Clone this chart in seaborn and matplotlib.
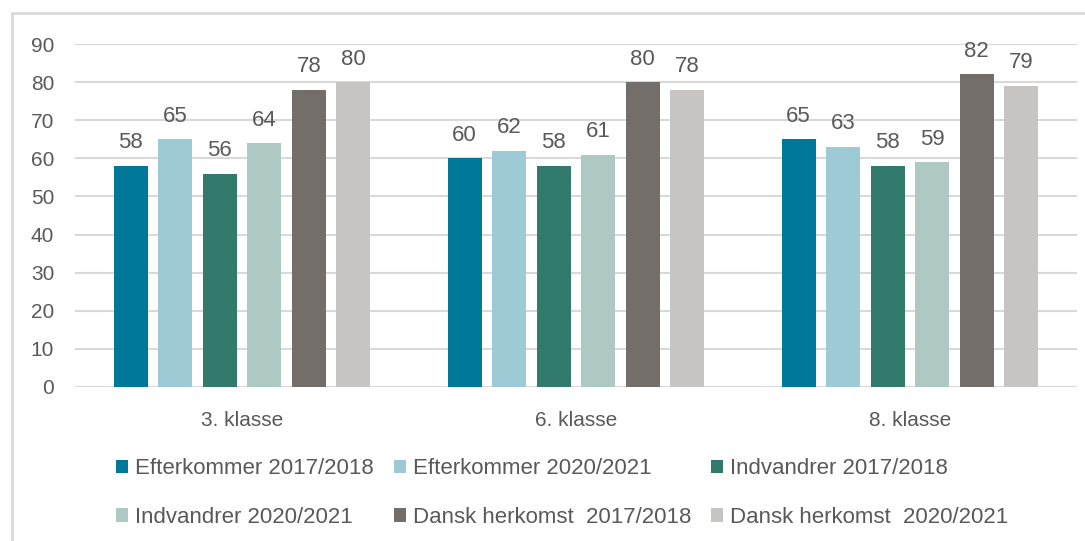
import pandas as pd
import seaborn as sns
import matplotlib.pyplot as plt
from matplotlib.lines import Line2D

# data
classes = ['3. klasse', '6. klasse', '8. klasse']
groups = ['Efterkommer 2017/2018', 'Efterkommer 2020/2021', 'Indvandrer 2017/2018',
          'Indvandrer 2020/2021', 'Dansk herkomst  2017/2018', 'Dansk herkomst  2020/2021']
efter_1718 = [58, 60, 65]
efter_2021 = [65, 62, 63]
indv_1718 = [56, 58, 58]
indv_2021 = [64, 61, 59]
dansk_1718 = [78, 80, 82]
dansk_2021 = [80, 78, 79]
colors = ['#00789A', '#9ECAD6', '#327A6C', '#AEC8C4', '#736E69', '#C6C5C3']

series = [efter_1718, efter_2021, indv_1718, indv_2021, dansk_1718, dansk_2021]
rows = []
for g, vals in zip(groups, series):
    for c, v in zip(classes, vals):
        rows.append({'klasse': c, 'gruppe': g, 'value': v})
df = pd.DataFrame(rows)

sns.set_style('white')
plt.rcParams['font.family'] = ['Liberation Sans', 'DejaVu Sans']
text_col = '#595959'

fig = plt.figure(figsize=(10.85, 5.41), dpi=100)
ax = fig.add_axes([75 / 1085, 1 - 387 / 541, 1002 / 1085, 343 / 541])

sns.barplot(data=df, x='klasse', y='value', hue='gruppe', hue_order=groups,
            palette=colors, width=0.8, gap=0.236, saturation=1, linewidth=0, ax=ax)

for cont in ax.containers:
    ax.bar_label(cont, padding=9, fontsize=16, color=text_col)

ax.set_ylim(0, 90)
ax.set_xlim(-0.5, 2.5)
ax.set_yticks(range(0, 91, 10))
ax.yaxis.grid(True, color='#D9D9D9', linewidth=1.5)
ax.set_axisbelow(True)
sns.despine(ax=ax, left=True, bottom=True)
ax.tick_params(axis='y', length=0, pad=15, labelsize=15, labelcolor=text_col)
ax.tick_params(axis='x', length=0, pad=17, labelsize=15, labelcolor=text_col)
ax.set_xlabel('')
ax.set_ylabel('')

# legend: three per row, row-major order
handles, labels = ax.get_legend_handles_labels()
ax.get_legend().remove()
order = [0, 3, 1, 4, 2, 5]
fig.legend([handles[i] for i in order], [labels[i] for i in order],
           ncol=3, loc='center', bbox_to_anchor=(562 / 1085, 1 - 493 / 541),
           frameon=False, fontsize=16, labelcolor=text_col,
           handlelength=0.55, handleheight=0.55, handletextpad=0.3,
           columnspacing=0.9, labelspacing=1.25)

# thin chart border (left and top visible)
fig.add_artist(Line2D([12 / 1085, 12 / 1085], [0, 1 - 13 / 541], color='#D9D9D9', lw=2))
fig.add_artist(Line2D([12 / 1085, 1], [1 - 13 / 541, 1 - 13 / 541], color='#D9D9D9', lw=2))

fig.savefig('out.png', dpi=100)
